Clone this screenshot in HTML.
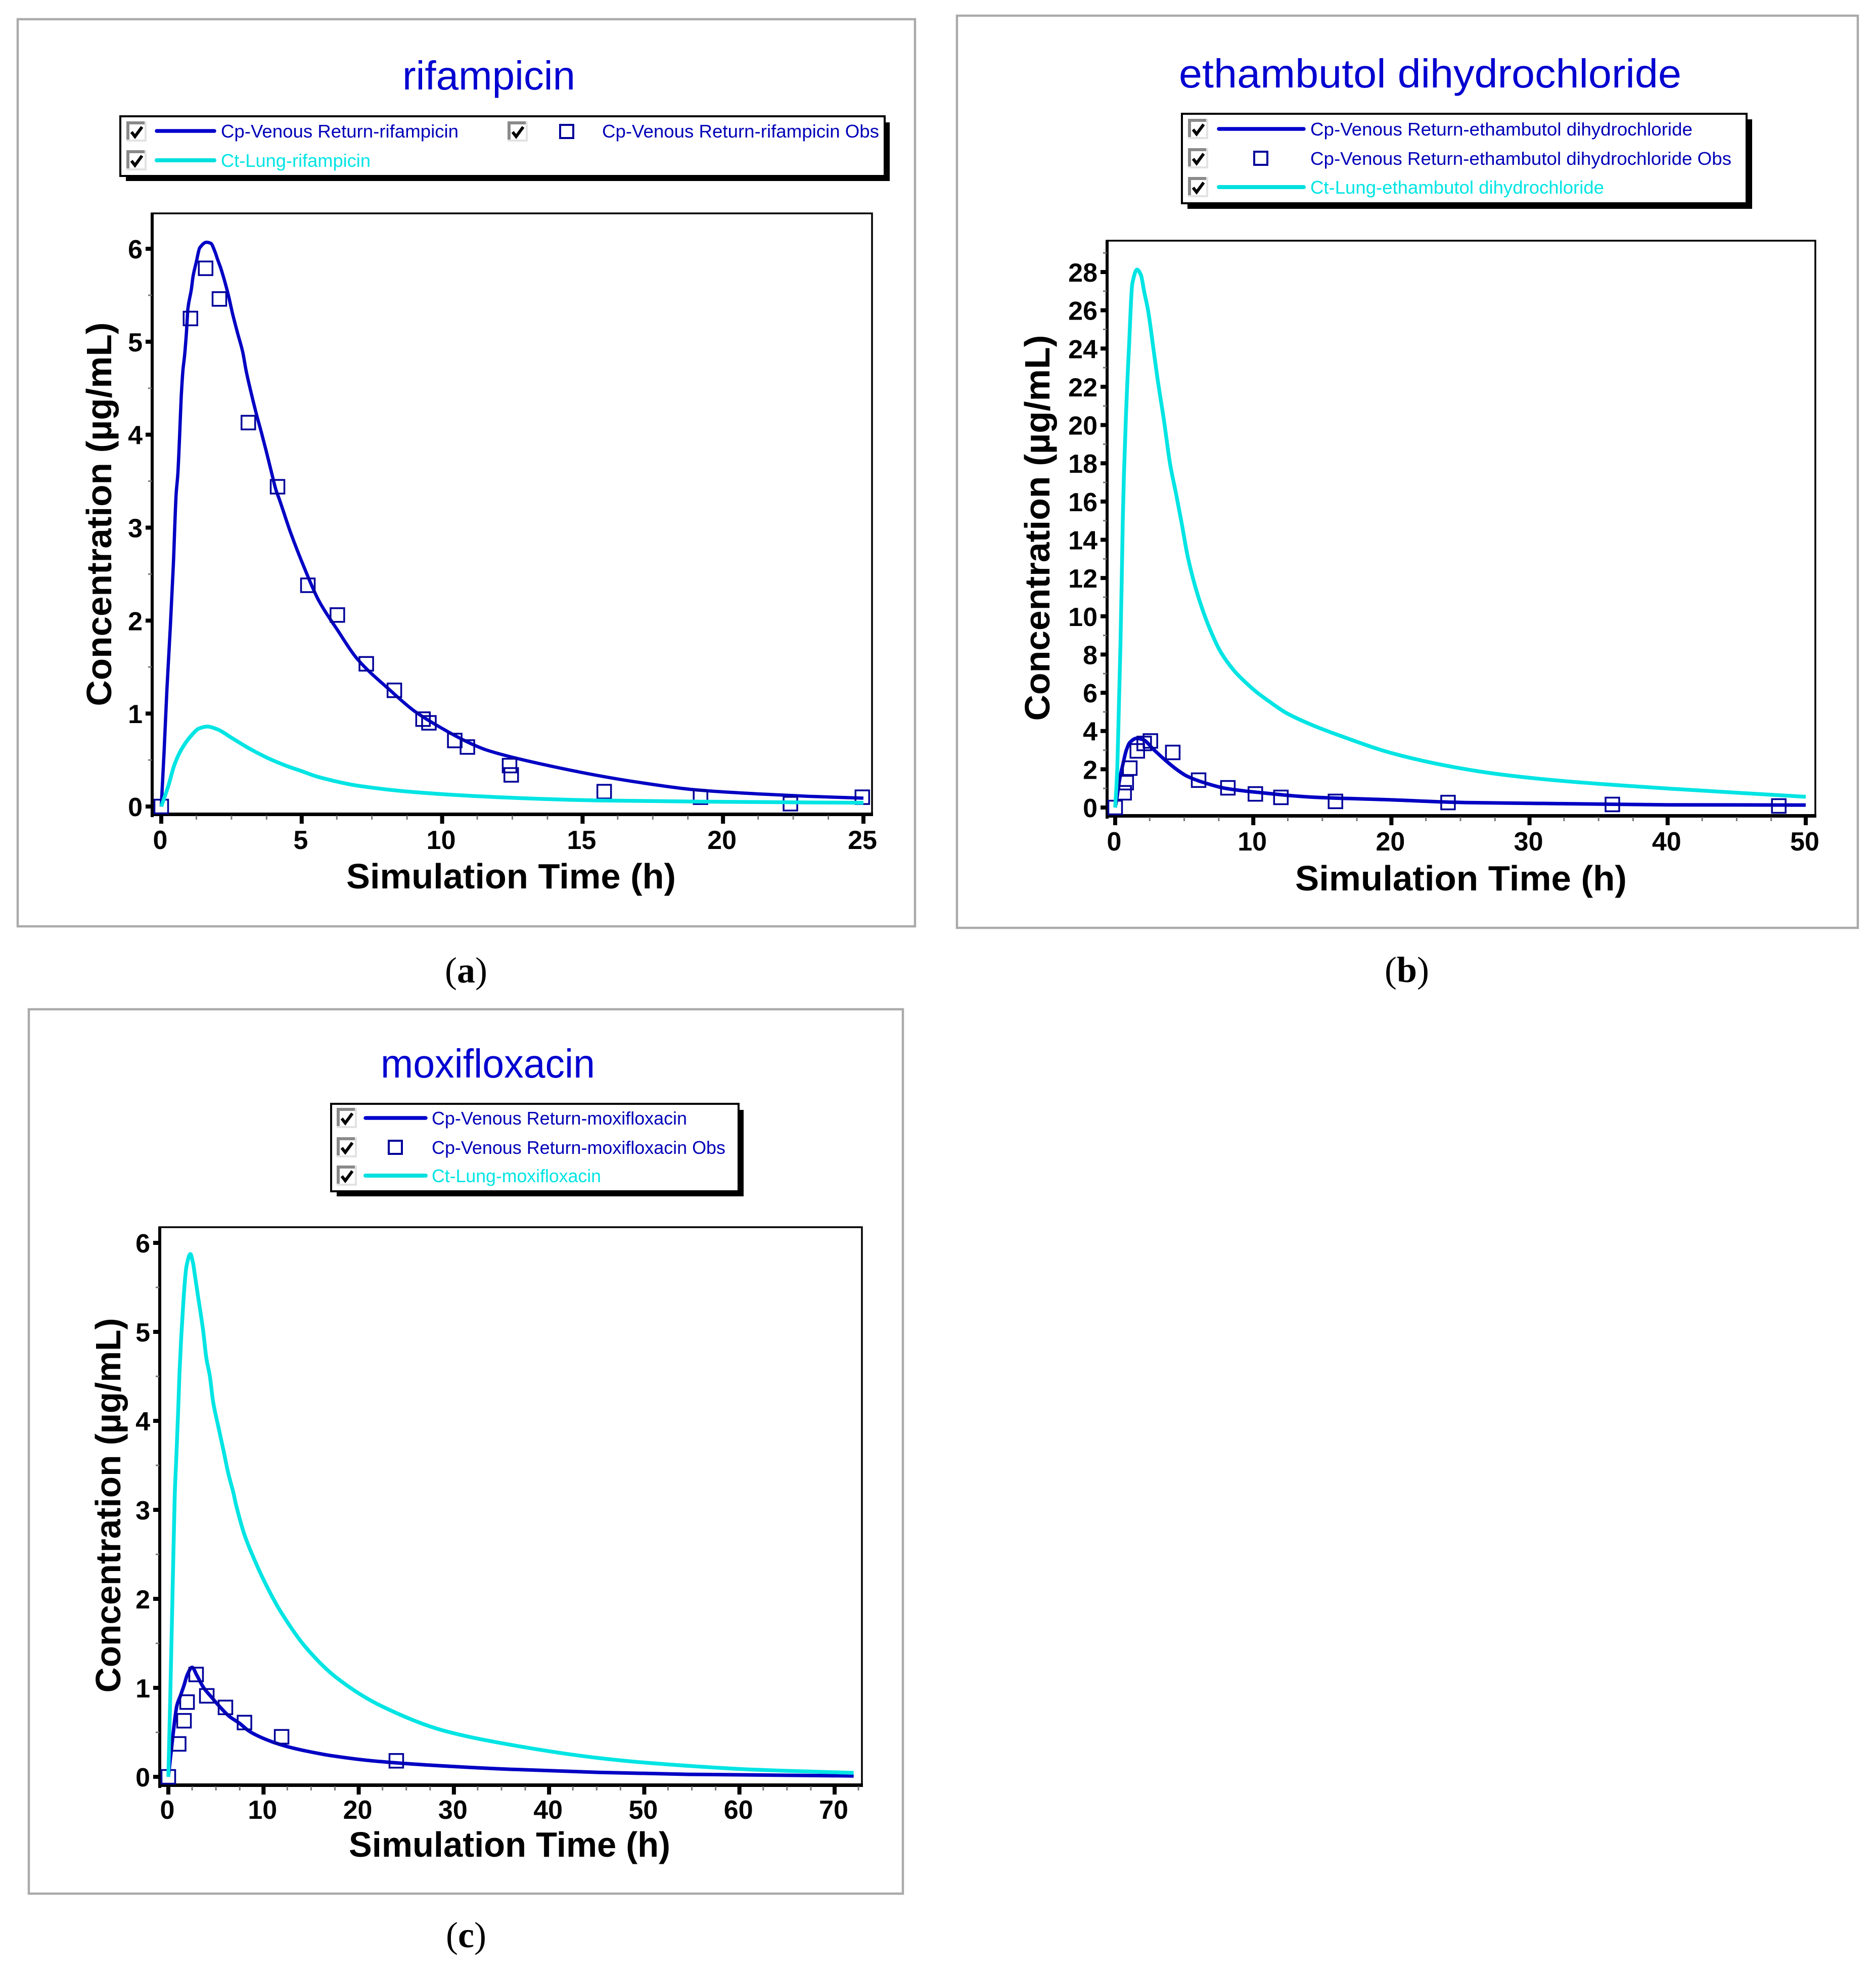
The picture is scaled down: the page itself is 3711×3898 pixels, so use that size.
<!DOCTYPE html>
<html lang="en">
<head>
<meta charset="utf-8">
<title>Concentration-time profiles</title>
<style>
html,body{margin:0;padding:0;background:#fff;}
svg{display:block;}
text{font-family:"Liberation Sans",sans-serif;}
.frame{fill:#fff;stroke:#aaaaaa;stroke-width:4.5;}
.title{font-size:80px;fill:#0000d0;text-anchor:middle;}
.leg-box{fill:#fff;stroke:#000;stroke-width:4;}
.leg-text{font-size:36px;fill:#0000b8;}
.leg-text-c{font-size:36px;fill:#00e4e4;}
.leg-line{stroke:#0000cc;stroke-width:7.5;stroke-linecap:round;}
.leg-line-c{stroke:#00dfdf;stroke-width:8;stroke-linecap:round;}
.leg-mark{fill:none;stroke:#000099;stroke-width:4;}
.plot-top{fill:none;stroke:#000;stroke-width:3.5;}
.axis-title{font-size:70px;font-weight:bold;fill:#000;text-anchor:middle;}
.tick-label{font-size:52px;font-weight:bold;fill:#000;}
.caption{font-family:"Liberation Serif",serif;font-size:72px;fill:#000;text-anchor:middle;}
.caption tspan{font-weight:bold;}
</style>
</head>
<body>
<svg id="fig" xmlns="http://www.w3.org/2000/svg" width="3711" height="3898" viewBox="0 0 3711 3898">
<defs>
<symbol id="cb" viewBox="0 0 40 40" width="40" height="40">
<rect x="0" y="0" width="40" height="40" fill="#e2e2e2"/>
<rect x="0" y="0" width="36" height="36" fill="#8a8a8a"/>
<rect x="6" y="6" width="30" height="30" fill="#fff"/>
<path d="M10 21 L17 30 L31 11" fill="none" stroke="#000" stroke-width="6"/>
</symbol>
</defs>

<!-- Panel a -->
<g id="panel-a">
<rect class="frame" x="35" y="38" width="1775" height="1794"/>
<text class="title" x="967" y="177" textLength="342" lengthAdjust="spacingAndGlyphs">rifampicin</text>
<g>
<rect x="249" y="242" width="1511" height="116" fill="#000"/>
<rect class="leg-box" x="238" y="230" width="1512" height="118"/>
<use href="#cb" x="250" y="240"/>
<line class="leg-line" x1="310" y1="259" x2="424" y2="259"/>
<text class="leg-text" x="437" y="272" textLength="470" lengthAdjust="spacingAndGlyphs">Cp-Venous Return-rifampicin</text>
<use href="#cb" x="1004" y="240"/>
<rect class="leg-mark" x="1108" y="247" width="26" height="26"/>
<text class="leg-text" x="1191" y="272" textLength="548" lengthAdjust="spacingAndGlyphs">Cp-Venous Return-rifampicin Obs</text>
<use href="#cb" x="250" y="297"/>
<line class="leg-line-c" x1="310" y1="317" x2="424" y2="317"/>
<text class="leg-text-c" x="437" y="330" textLength="296" lengthAdjust="spacingAndGlyphs">Ct-Lung-rifampicin</text>
</g>
<rect class="plot-top" x="300" y="422" width="1425" height="1188"/>
<text class="axis-title" x="1011" y="1757" textLength="652" lengthAdjust="spacingAndGlyphs">Simulation Time (h)</text>
<text class="axis-title" transform="translate(220 1017) rotate(-90)" textLength="759" lengthAdjust="spacingAndGlyphs">Concentration (µg/mL)</text>
</g>
<text class="caption" x="922" y="1943">(<tspan>a</tspan>)</text>

<!-- Panel b -->
<g id="panel-b">
<rect class="frame" x="1893" y="31" width="1782" height="1804"/>
<text class="title" x="2829" y="173" textLength="994" lengthAdjust="spacingAndGlyphs">ethambutol dihydrochloride</text>
<g>
<rect x="2349" y="236" width="1117" height="177" fill="#000"/>
<rect class="leg-box" x="2338" y="225" width="1117" height="177"/>
<use href="#cb" x="2350" y="235"/>
<line class="leg-line" x1="2411" y1="255" x2="2579" y2="255"/>
<text class="leg-text" x="2592" y="268" textLength="756" lengthAdjust="spacingAndGlyphs">Cp-Venous Return-ethambutol dihydrochloride</text>
<use href="#cb" x="2350" y="293"/>
<rect class="leg-mark" x="2481" y="300" width="26" height="26"/>
<text class="leg-text" x="2592" y="326" textLength="833" lengthAdjust="spacingAndGlyphs">Cp-Venous Return-ethambutol dihydrochloride Obs</text>
<use href="#cb" x="2350" y="350"/>
<line class="leg-line-c" x1="2411" y1="370" x2="2579" y2="370"/>
<text class="leg-text-c" x="2592" y="383" textLength="581" lengthAdjust="spacingAndGlyphs">Ct-Lung-ethambutol dihydrochloride</text>
</g>
<rect class="plot-top" x="2189" y="476" width="1402" height="1137"/>
<text class="axis-title" x="2890" y="1761" textLength="656" lengthAdjust="spacingAndGlyphs">Simulation Time (h)</text>
<text class="axis-title" transform="translate(2076 1044) rotate(-90)" textLength="763" lengthAdjust="spacingAndGlyphs">Concentration (µg/mL)</text>
</g>
<text class="caption" x="2783" y="1942">(<tspan>b</tspan>)</text>

<!-- Panel c -->
<g id="panel-c">
<rect class="frame" x="57" y="1996" width="1729" height="1749"/>
<text class="title" x="965" y="2131" textLength="424" lengthAdjust="spacingAndGlyphs">moxifloxacin</text>
<g>
<rect x="666" y="2195" width="805" height="171" fill="#000"/>
<rect class="leg-box" x="655" y="2183" width="806" height="173"/>
<use href="#cb" x="666" y="2191"/>
<line class="leg-line" x1="723" y1="2211" x2="842" y2="2211"/>
<text class="leg-text" x="854" y="2224" textLength="505" lengthAdjust="spacingAndGlyphs">Cp-Venous Return-moxifloxacin</text>
<use href="#cb" x="666" y="2249"/>
<rect class="leg-mark" x="769" y="2256" width="26" height="26"/>
<text class="leg-text" x="854" y="2282" textLength="581" lengthAdjust="spacingAndGlyphs">Cp-Venous Return-moxifloxacin Obs</text>
<use href="#cb" x="666" y="2305"/>
<line class="leg-line-c" x1="723" y1="2325" x2="842" y2="2325"/>
<text class="leg-text-c" x="854" y="2338" textLength="335" lengthAdjust="spacingAndGlyphs">Ct-Lung-moxifloxacin</text>
</g>
<rect class="plot-top" x="315" y="2427" width="1390" height="1103"/>
<text class="axis-title" x="1008" y="3672" textLength="636" lengthAdjust="spacingAndGlyphs">Simulation Time (h)</text>
<text class="axis-title" transform="translate(238 2977) rotate(-90)" textLength="741" lengthAdjust="spacingAndGlyphs">Concentration (µg/mL)</text>
</g>
<text class="caption" x="922" y="3851">(<tspan>c</tspan>)</text>
</svg>

<script>
// ---------- rifampicin data ----------
var rifXTicks = [0, 5, 10, 15, 20, 25];
var rifYTicks = [0, 1, 2, 3, 4, 5, 6];
var rifCpTimes = [0, 0.1, 0.2, 0.32, 0.43, 0.53, 0.59, 0.65, 0.71, 0.77, 0.83, 0.89, 0.95, 1.07, 1.13, 1.25, 1.37, 1.61, 1.76, 1.91, 2.0, 2.12, 2.24, 2.39, 2.54, 2.72, 2.9, 3.02, 3.2, 3.38, 3.56, 3.74, 3.92, 4.09, 4.21, 4.6, 5.09, 5.6, 6.27, 7, 8.15, 9, 10, 11, 11.56, 12.5, 14.1, 15.6, 17, 19, 21, 23, 25];
var rifCpValues = [0, 0.59, 1.25, 1.92, 2.6, 3.36, 3.58, 3.96, 4.4, 4.69, 4.85, 5.07, 5.36, 5.56, 5.7, 5.86, 6.01, 6.07, 6.06, 5.97, 5.89, 5.79, 5.67, 5.5, 5.3, 5.09, 4.89, 4.69, 4.45, 4.23, 4.03, 3.82, 3.6, 3.4, 3.3, 2.95, 2.57, 2.22, 1.9, 1.58, 1.25, 1.03, 0.84, 0.68, 0.61, 0.53, 0.42, 0.33, 0.26, 0.18, 0.14, 0.11, 0.09];
var rifLungTimes = [0, 0.26, 0.47, 0.71, 1.06, 1.35, 1.64, 2, 2.5, 3.13, 3.8, 4.39, 5, 5.6, 7.08, 9.2, 12, 15.6, 20, 25];
var rifLungValues = [0, 0.23, 0.45, 0.61, 0.76, 0.84, 0.86, 0.83, 0.74, 0.625, 0.52, 0.445, 0.38, 0.317, 0.22, 0.15, 0.1, 0.065, 0.05, 0.04];
var rifObsTimes = [0, 1.04, 1.58, 2.07, 3.1, 4.14, 5.22, 6.27, 7.3, 8.3, 9.32, 9.53, 10.45, 10.9, 12.4, 12.46, 15.77, 19.2, 22.4, 24.96];
var rifObsValues = [0, 5.25, 5.79, 5.46, 4.13, 3.44, 2.38, 2.06, 1.535, 1.25, 0.94, 0.9, 0.71, 0.64, 0.44, 0.34, 0.16, 0.1, 0.03, 0.1];

// ---------- ethambutol data ----------
var ethXTicks = [0, 10, 20, 30, 40, 50];
var ethYTicks = [0, 2, 4, 6, 8, 10, 12, 14, 16, 18, 20, 22, 24, 26, 28];
var ethCpTimes = [0, 0.1, 0.33, 0.57, 0.81, 1.06, 1.55, 2.04, 2.77, 3.62, 4.47, 5.2, 6.43, 8, 10.2, 14.1, 20, 25.4, 32.3, 40, 50];
var ethCpValues = [0, 0.4, 1.5, 2.3, 3.0, 3.4, 3.62, 3.54, 3.04, 2.48, 1.98, 1.64, 1.3, 1.0, 0.8, 0.55, 0.4, 0.26, 0.2, 0.14, 0.13];
var ethLungTimes = [0, 0.15, 0.27, 0.38, 0.47, 0.55, 0.63, 0.78, 0.9, 1.02, 1.146, 1.24, 1.585, 1.86, 2.1, 2.38, 2.77, 3.14, 3.5, 3.99, 4.38, 4.78, 5.27, 5.94, 6.8, 7.65, 8.63, 9.36, 10.3, 11.3, 12.4, 14.2, 16.3, 20, 24.1, 28, 32.7, 40.5, 50];
var ethLungValues = [0, 2, 5.4, 8.5, 11.7, 15, 17.3, 20.5, 22.6, 24.4, 26.45, 27.4, 28.13, 27.85, 26.97, 26, 23.98, 22.05, 20.4, 17.9, 16.5, 15, 13.06, 11.2, 9.43, 8.12, 7.14, 6.6, 6, 5.47, 4.94, 4.33, 3.75, 2.85, 2.17, 1.72, 1.37, 0.97, 0.56];
var ethObsTimes = [0, 0.65, 0.8, 1.06, 1.6, 2.1, 2.55, 4.17, 6.04, 8.16, 10.15, 12, 15.95, 24.1, 36, 48.05];
var ethObsValues = [0, 0.77, 1.3, 2.06, 2.96, 3.35, 3.48, 2.88, 1.43, 1.03, 0.71, 0.53, 0.32, 0.26, 0.16, 0.08];

// ---------- moxifloxacin data ----------
var moxXTicks = [0, 10, 20, 30, 40, 50, 60, 70];
var moxYTicks = [0, 1, 2, 3, 4, 5, 6];
var moxCpTimes = [0, 0.47, 0.9, 1.3, 1.65, 2.0, 2.5, 3, 3.72, 4.5, 5.3, 6.4, 7.5, 8.4, 9.4, 11, 12.5, 14.5, 17, 21.4, 27.7, 35.8, 45.3, 54.7, 70.5, 72];
var moxCpValues = [0, 0.45, 0.8, 0.92, 1.03, 1.15, 1.23, 1.14, 1.0, 0.9, 0.8, 0.68, 0.6, 0.52, 0.46, 0.39, 0.34, 0.29, 0.24, 0.18, 0.13, 0.085, 0.05, 0.028, 0.012, 0.01];
var moxLungTimes = [0, 0.2, 0.47, 0.67, 0.85, 1.03, 1.17, 1.34, 1.52, 1.7, 1.91, 2.32, 2.58, 2.8, 3.12, 3.65, 4.0, 4.35, 4.71, 5.24, 5.77, 6.3, 6.84, 7.13, 8, 9, 10.35, 11.9, 14.4, 17.6, 22.3, 28.9, 36.5, 45.3, 51.6, 61.7, 72];
var moxLungValues = [0, 0.9, 2.2, 3.15, 3.62, 4.11, 4.53, 4.91, 5.23, 5.52, 5.74, 5.875, 5.78, 5.63, 5.4, 5.02, 4.7, 4.51, 4.21, 3.94, 3.68, 3.41, 3.19, 3.05, 2.72, 2.45, 2.14, 1.84, 1.46, 1.12, 0.8, 0.52, 0.35, 0.21, 0.147, 0.08, 0.045];
var moxObsTimes = [0, 1.09, 1.65, 1.97, 2.92, 4.04, 6, 8, 11.9, 23.95];
var moxObsValues = [0, 0.37, 0.63, 0.84, 1.15, 0.91, 0.78, 0.61, 0.45, 0.18];

var SVGNS = 'http://www.w3.org/2000/svg';

function linearScale(v0, p0, v1, p1) {
  return function (v) { return p0 + (v - v0) * (p1 - p0) / (v1 - v0); };
}

function monotonePath(xs, ys) {
  var n = xs.length, m = [], d = [], i;
  for (i = 0; i < n - 1; i++) { d[i] = (ys[i + 1] - ys[i]) / (xs[i + 1] - xs[i]); }
  m[0] = d[0];
  m[n - 1] = d[n - 2];
  for (i = 1; i < n - 1; i++) {
    m[i] = d[i - 1] * d[i] <= 0 ? 0 : 2 * d[i - 1] * d[i] / (d[i - 1] + d[i]);
  }
  var path = 'M' + xs[0].toFixed(1) + ' ' + ys[0].toFixed(1);
  for (i = 0; i < n - 1; i++) {
    var h = (xs[i + 1] - xs[i]) / 3;
    path += 'C' + (xs[i] + h).toFixed(1) + ' ' + (ys[i] + m[i] * h).toFixed(1) + ' ' +
      (xs[i + 1] - h).toFixed(1) + ' ' + (ys[i + 1] - m[i + 1] * h).toFixed(1) + ' ' +
      xs[i + 1].toFixed(1) + ' ' + ys[i + 1].toFixed(1);
  }
  return path;
}

function svgEl(parent, tag, attrs) {
  var el = document.createElementNS(SVGNS, tag);
  for (var k in attrs) { el.setAttribute(k, attrs[k]); }
  parent.appendChild(el);
  return el;
}

function drawAxes(g, box, sx, sy, xTicks, yTicks) {
  var left = svgEl(g, 'rect', { x: box.left - 2, y: box.top, width: 6, height: box.bottom - box.top + 3, fill: '#000' });
  
  
  var bottom = svgEl(g, 'rect', { x: box.left - 2, y: box.bottom - 6, width: box.right - box.left + 4, height: 7, fill: '#000' });
  
  

  var xStep = xTicks[1] - xTicks[0];
  for (var t = 0; sx(t) <= box.right; t += xStep / 4) {
    var isMajorX = xTicks.indexOf(t) >= 0;
    var xt = svgEl(g, 'rect', {
      x: sx(t) - (isMajorX ? 4 : 1.5), y: box.bottom, width: isMajorX ? 8 : 3,
      height: isMajorX ? 16 : 8, fill: isMajorX ? '#000' : '#777'
    });
    
    
  }

  var yStep = yTicks[1] - yTicks[0];
  for (var v = 0; sy(v) >= box.top; v += yStep / 2) {
    var isMajorY = yTicks.indexOf(v) >= 0;
    var yt = svgEl(g, 'rect', {
      x: box.left - (isMajorY ? 12 : 7), y: sy(v) - (isMajorY ? 4 : 1.5),
      width: isMajorY ? 12 : 7, height: isMajorY ? 8 : 3, fill: isMajorY ? '#000' : '#777'
    });
    
    
  }

  xTicks.forEach(function (tick) {
    var lab = svgEl(g, 'text', { x: sx(tick) - 2, y: box.xLabelY, 'text-anchor': 'middle', 'class': 'tick-label' });
    lab.textContent = String(tick);
    
    
  });
  yTicks.forEach(function (tick) {
    var lab = svgEl(g, 'text', { x: box.left - 18, y: sy(tick) + 19, 'text-anchor': 'end', 'class': 'tick-label' });
    lab.textContent = String(tick);
    
    
  });
}

function drawSeries(g, sx, sy, times, values, color, width, name) {
  var p = svgEl(g, 'path', {
    d: monotonePath(times.map(sx), values.map(sy)),
    fill: 'none', stroke: color, 'stroke-width': width, 'stroke-linejoin': 'round'
  });
  
  
}

function drawObserved(g, sx, sy, times, values) {
  times.forEach(function (t, i) {
    var r = svgEl(g, 'rect', {
      x: sx(t) - 13.5, y: sy(values[i]) - 13.5, width: 27, height: 27,
      fill: 'none', stroke: '#000099', 'stroke-width': 3.5
    });
    
    
  });
}

// rifampicin panel
(function () {
  var g = document.getElementById('panel-a');
  var box = { left: 300, right: 1725, top: 422, bottom: 1613, xLabelY: 1679 };
  var sx = linearScale(0, 319, 25, 1708);
  var sy = linearScale(0, 1595, 6, 492);
  drawAxes(g, box, sx, sy, rifXTicks, rifYTicks);
  drawSeries(g, sx, sy, rifCpTimes, rifCpValues, '#0000c4', 6.5, 'cp-venous-line');
  drawObserved(g, sx, sy, rifObsTimes, rifObsValues);
  drawSeries(g, sx, sy, rifLungTimes, rifLungValues, '#00e4e4', 7.5, 'ct-lung-line');
})();

// ethambutol panel
(function () {
  var g = document.getElementById('panel-b');
  var box = { left: 2189, right: 3591, top: 476, bottom: 1616, xLabelY: 1682 };
  var sx = linearScale(0, 2206, 50, 3572);
  var sy = linearScale(0, 1597, 28, 538);
  drawAxes(g, box, sx, sy, ethXTicks, ethYTicks);
  drawSeries(g, sx, sy, ethCpTimes, ethCpValues, '#0000c4', 7, 'cp-venous-line');
  drawObserved(g, sx, sy, ethObsTimes, ethObsValues);
  drawSeries(g, sx, sy, ethLungTimes, ethLungValues, '#00e4e4', 7.5, 'ct-lung-line');
})();

// moxifloxacin panel
(function () {
  var g = document.getElementById('panel-c');
  var box = { left: 315, right: 1705, top: 2427, bottom: 3533, xLabelY: 3597 };
  var sx = linearScale(0, 333, 70, 1651);
  var sy = linearScale(0, 3514, 6, 2458);
  drawAxes(g, box, sx, sy, moxXTicks, moxYTicks);
  drawSeries(g, sx, sy, moxCpTimes, moxCpValues, '#0000c4', 7, 'cp-venous-line');
  drawObserved(g, sx, sy, moxObsTimes, moxObsValues);
  drawSeries(g, sx, sy, moxLungTimes, moxLungValues, '#00e4e4', 7.5, 'ct-lung-line');
})();
</script>
</body>
</html>
